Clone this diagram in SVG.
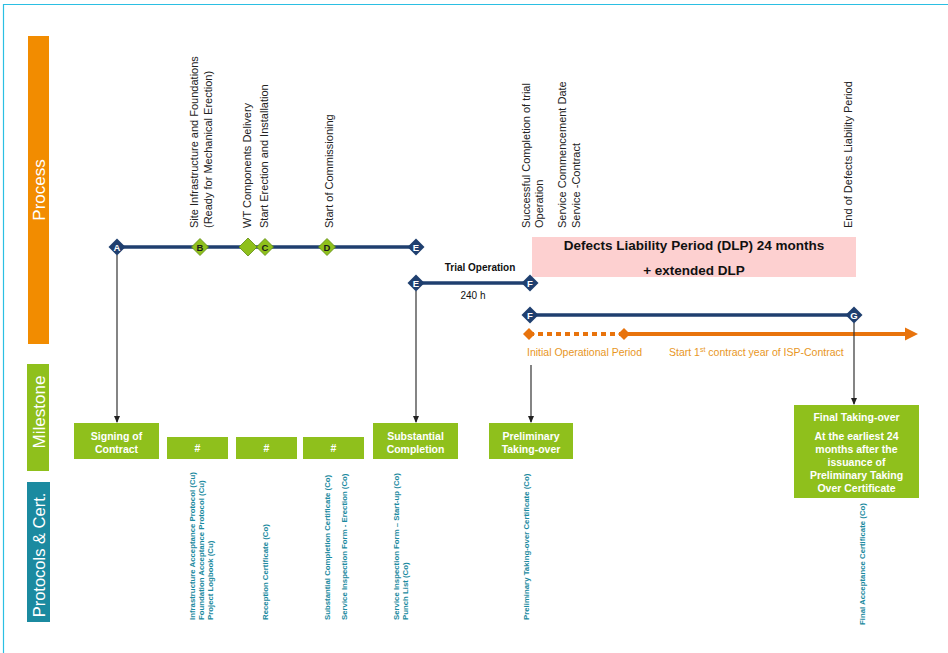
<svg xmlns="http://www.w3.org/2000/svg" width="948" height="653" viewBox="0 0 948 653">
<style>
text{font-family:"Liberation Sans",Arial,sans-serif}
.lane{fill:#fff;font-size:17px}
.vl{font-size:11px;fill:#222}
.pc{font-size:7.8px;font-weight:bold;fill:#1b8aa0}
.ms{fill:#8fc01c}
.mt{fill:#fff;font-size:10.5px;font-weight:bold;text-anchor:middle}
.bl{stroke:#1f3f6f;stroke-width:3.5;fill:none}
.bd{fill:#1f3f6f}
.gd{fill:#8fc01c;stroke:#5f8a12;stroke-width:0.8}
.dl{fill:#fff;font-size:9.5px;font-weight:bold;text-anchor:middle}
.gl{fill:#1a1a1a;font-size:9.5px;font-weight:bold;text-anchor:middle}
.ar{stroke:#333;stroke-width:1.2;fill:none;marker-end:url(#ah)}
.ol{fill:#e8961e;font-size:10.5px}
</style>
<defs>
<marker id="ah" markerWidth="8" markerHeight="8" refX="6" refY="4" orient="auto" markerUnits="userSpaceOnUse">
<path d="M0,1 L7,4 L0,7 Z" fill="#222"/>
</marker>
<polygon id="dia" points="0,-8.5 8.5,0 0,8.5 -8.5,0"/>
</defs>
<!-- frame -->
<path d="M3.5,653 V4.5 H948" fill="none" stroke="#2bbfe3" stroke-width="1.2"/>
<!-- lanes -->
<g id="lane-process"><rect x="28" y="36" width="21" height="308" fill="#f28c00"/><text class="lane" transform="translate(44.5,190) rotate(-90)" text-anchor="middle">Process</text></g>
<g id="lane-milestone"><rect x="27" y="364" width="22" height="107" fill="#8fc01c"/><text class="lane" transform="translate(44.5,412) rotate(-90)" text-anchor="middle">Milestone</text></g>
<g id="lane-protocols"><rect x="27" y="482" width="23" height="140" fill="#1b8aa0"/><text class="lane" style="font-size:16.5px" transform="translate(44.5,555) rotate(-90)" text-anchor="middle">Protocols &amp; Cert.</text></g>
<!-- process labels -->
<g id="process-labels">
<text class="vl" transform="translate(198,228) rotate(-90)">Site Infrastructure and Foundations</text>
<text class="vl" transform="translate(212,228) rotate(-90)">(Ready for Mechanical Erection)</text>
<text class="vl" transform="translate(251,228) rotate(-90)">WT Components Delivery</text>
<text class="vl" transform="translate(268,228) rotate(-90)">Start Erection and Installation</text>
<text class="vl" transform="translate(333,228) rotate(-90)">Start of Commissioning</text>
<text class="vl" transform="translate(530,228) rotate(-90)">Successful Completion of trial</text>
<text class="vl" transform="translate(543,228) rotate(-90)">Operation</text>
<text class="vl" transform="translate(566,228) rotate(-90)">Service Commencement Date</text>
<text class="vl" transform="translate(580,228) rotate(-90)">Service -Contract</text>
<text class="vl" transform="translate(852,228) rotate(-90)">End of Defects Liability Period</text>
</g>
<!-- DLP box -->
<g id="dlp">
<rect x="532" y="237" width="324" height="40" fill="#fdd0d0"/>
<text x="694" y="250" text-anchor="middle" font-size="13.5" font-weight="bold" fill="#111">Defects Liability Period (DLP) 24 months</text>
<text x="694" y="275" text-anchor="middle" font-size="13.5" font-weight="bold" fill="#111">+ extended DLP</text>
</g>
<!-- connectors -->
<g id="connectors">
<line class="bl" x1="117" y1="247" x2="416" y2="247"/>
<line class="bl" x1="416" y1="283" x2="530" y2="283"/>
<line class="bl" x1="530" y1="315" x2="854" y2="315"/>
<line x1="529" y1="334" x2="624" y2="334" stroke="#e8730c" stroke-width="4" stroke-dasharray="5,4"/>
<line x1="624" y1="334" x2="906" y2="334" stroke="#e8730c" stroke-width="4"/>
<polygon points="905,327.5 918,334 905,340.5" fill="#e8730c"/>
<line class="ar" x1="117" y1="255" x2="117" y2="422"/>
<line class="ar" x1="416" y1="291" x2="416" y2="422"/>
<line class="ar" x1="531" y1="365" x2="531" y2="422"/>
<line class="ar" x1="854" y1="323" x2="854" y2="404"/>
<text x="480" y="271" text-anchor="middle" font-size="10" font-weight="bold" fill="#111">Trial Operation</text>
<text x="473" y="299" text-anchor="middle" font-size="10" fill="#111">240 h</text>
<text class="ol" x="527" y="356">Initial Operational Period</text>
<text class="ol" x="669" y="356">Start 1<tspan font-size="7" dy="-4">st</tspan><tspan dy="4"> contract year of ISP-Contract</tspan></text>
</g>
<!-- diamonds -->
<g id="node-A"><use href="#dia" class="bd" x="117" y="247"/><text class="dl" x="117" y="250.5">A</text></g>
<g id="node-B"><use href="#dia" class="gd" x="200" y="247"/><text class="gl" x="200" y="250.5">B</text></g>
<g id="node-WT"><polygon class="gd" points="248,238 257,247 248,256 239,247"/></g>
<g id="node-C"><use href="#dia" class="gd" x="265" y="247"/><text class="gl" x="265" y="250.5">C</text></g>
<g id="node-D"><use href="#dia" class="gd" x="327" y="247"/><text class="gl" x="327" y="250.5">D</text></g>
<g id="node-E1"><use href="#dia" class="bd" x="416" y="247"/><text class="dl" x="416" y="250.5">E</text></g>
<g id="node-E2"><use href="#dia" class="bd" x="416" y="283"/><text class="dl" x="416" y="286.5">E</text></g>
<g id="node-F1"><use href="#dia" class="bd" x="530" y="283"/><text class="dl" x="530" y="286.5">F</text></g>
<g id="node-F2"><use href="#dia" class="bd" x="530" y="315"/><text class="dl" x="530" y="318.5">F</text></g>
<g id="node-G"><use href="#dia" class="bd" x="854" y="315"/><text class="dl" x="854" y="318.5">G</text></g>
<g id="node-O1"><polygon points="529,328 535,334 529,340 523,334" fill="#e8730c"/></g>
<g id="node-O2"><polygon points="624,328 630,334 624,340 618,334" fill="#e8730c"/></g>
<!-- milestones -->
<g id="ms-signing"><rect class="ms" x="74" y="423" width="85" height="36"/><text class="mt" x="116.5" y="440">Signing of</text><text class="mt" x="116.5" y="453">Contract</text></g>
<g id="ms-h1"><rect class="ms" x="167" y="437" width="61" height="22"/><text class="mt" x="197.5" y="452">#</text></g>
<g id="ms-h2"><rect class="ms" x="236" y="437" width="61" height="22"/><text class="mt" x="266.5" y="452">#</text></g>
<g id="ms-h3"><rect class="ms" x="303" y="437" width="61" height="22"/><text class="mt" x="333.5" y="452">#</text></g>
<g id="ms-substantial"><rect class="ms" x="373" y="423" width="85" height="36"/><text class="mt" x="415.5" y="440">Substantial</text><text class="mt" x="415.5" y="453">Completion</text></g>
<g id="ms-preliminary"><rect class="ms" x="489" y="423" width="84" height="36"/><text class="mt" x="531" y="440">Preliminary</text><text class="mt" x="531" y="453">Taking-over</text></g>
<g id="ms-final"><rect class="ms" x="794" y="405" width="125" height="93"/>
<text class="mt" x="856.5" y="421">Final Taking-over</text>
<text class="mt" x="856.5" y="440">At the earliest 24</text>
<text class="mt" x="856.5" y="453">months after the</text>
<text class="mt" x="856.5" y="466">issuance of</text>
<text class="mt" x="856.5" y="479">Preliminary Taking</text>
<text class="mt" x="856.5" y="492">Over Certificate</text></g>
<!-- protocols -->
<g id="protocols">
<text class="pc" transform="translate(195,620) rotate(-90)">Infrastructure Acceptance Protocol  (Cu)</text>
<text class="pc" transform="translate(204,620) rotate(-90)">Foundation Acceptance Protocol  (Cu)</text>
<text class="pc" transform="translate(213,620) rotate(-90)">Project Logbook (Cu)</text>
<text class="pc" transform="translate(268,620) rotate(-90)">Reception Certificate (Co)</text>
<text class="pc" transform="translate(330,620) rotate(-90)">Substantial Completion Certificate (Co)</text>
<text class="pc" transform="translate(346.5,620) rotate(-90)">Service Inspection Form - Erection (Co)</text>
<text class="pc" transform="translate(399,620) rotate(-90)">Service Inspection Form – Start-up (Co)</text>
<text class="pc" transform="translate(408,620) rotate(-90)">Punch List (Co)</text>
<text class="pc" transform="translate(529,620) rotate(-90)">Preliminary Taking-over  Certificate (Co)</text>
<text class="pc" transform="translate(865,625) rotate(-90)">Final Acceptance Certificate (Co)</text>
</g>
</svg>
